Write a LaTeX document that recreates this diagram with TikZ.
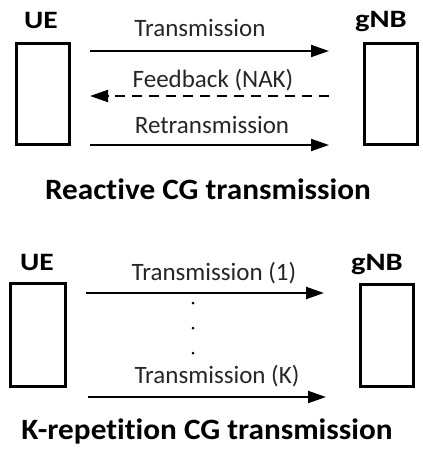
\documentclass[tikz,border=0pt]{standalone}
\usepackage{fontspec}
\setmainfont[Ligatures=NoCommon]{Carlito}
\usetikzlibrary{arrows.meta}
\newcommand{\wideby}[2]{\scalebox{#1}[1]{#2}}
\tikzset{
  entity/.style={draw, line width=3pt, minimum width=53pt, minimum height=101pt, inner sep=0pt},
  lbl/.style={font=\fontsize{25}{28}\selectfont\bfseries, anchor=base, inner sep=0pt},
  msg/.style={font=\fontsize{25}{28}\selectfont, anchor=base, inner sep=0pt, text=black!85},
  ttl/.style={font=\fontsize{29.5}{32}\selectfont\bfseries, anchor=base, inner sep=0pt},
  sig/.style={line width=2pt, -{Triangle[length=18pt,width=12pt]}},
  dsig/.style={sig, dash pattern=on 10pt off 7pt},
  dotp/.style={circle, fill=black, inner sep=0pt, minimum size=3pt}
}
\begin{document}
\begin{tikzpicture}[x=1pt,y=-1pt]
\useasboundingbox (0,0) rectangle (423,450);
% --- Reactive ---
\node[entity] (ue1) at (43,94) {};
\node[entity] (gnb1) at (390.5,94) {};
\node[lbl] (ue1l) at (41,28) {\wideby{1.18}{UE}};
\node[lbl] (gnb1l) at (381,27) {\wideby{1.22}{gNB}};
\coordinate (a1s) at (90,51);
\coordinate (a1e) at (329,51);
\coordinate (a2s) at (329,96);
\coordinate (a2e) at (90,96);
\coordinate (a3s) at (90,145);
\coordinate (a3e) at (329,145);
\draw[sig] (a1s) -- (a1e);
\draw[dsig] (a2s) -- (a2e);
\draw[sig] (a3s) -- (a3e);
\node[msg] (t1) at (200,36) {Transmission};
\node[msg] (t2) at (213,87) {Feedback (NAK)};
\node[msg] (t3) at (212,133) {Retransmission};
\node[ttl] (title1) at (208,199) {\wideby{1.06}{Reactive CG transmission}};
% --- K-repetition ---
\node[entity, minimum width=55pt, minimum height=103pt] (ue2) at (38,335) {};
\node[entity, minimum height=102pt] (gnb2) at (387,335.5) {};
\node[lbl] (ue2l) at (37,270) {\wideby{1.18}{UE}};
\node[lbl] (gnb2l) at (377,270) {\wideby{1.22}{gNB}};
\coordinate (b1s) at (86,293);
\coordinate (b1e) at (324,293);
\coordinate (bks) at (88,397);
\coordinate (bke) at (326,397);
\draw[sig] (b1s) -- (b1e);
\draw[sig] (bks) -- (bke);
\node[msg] (r1) at (214,280) {Transmission (1)};
\node[msg] (rk) at (217,383) {Transmission (K)};
\node[dotp] (d1) at (193,303) {};
\node[dotp] (d2) at (193,328) {};
\node[dotp] (d3) at (193,353) {};
\node[ttl] (title2) at (207,439) {\wideby{1.06}{K-repetition CG transmission}};
\end{tikzpicture}
\end{document}
